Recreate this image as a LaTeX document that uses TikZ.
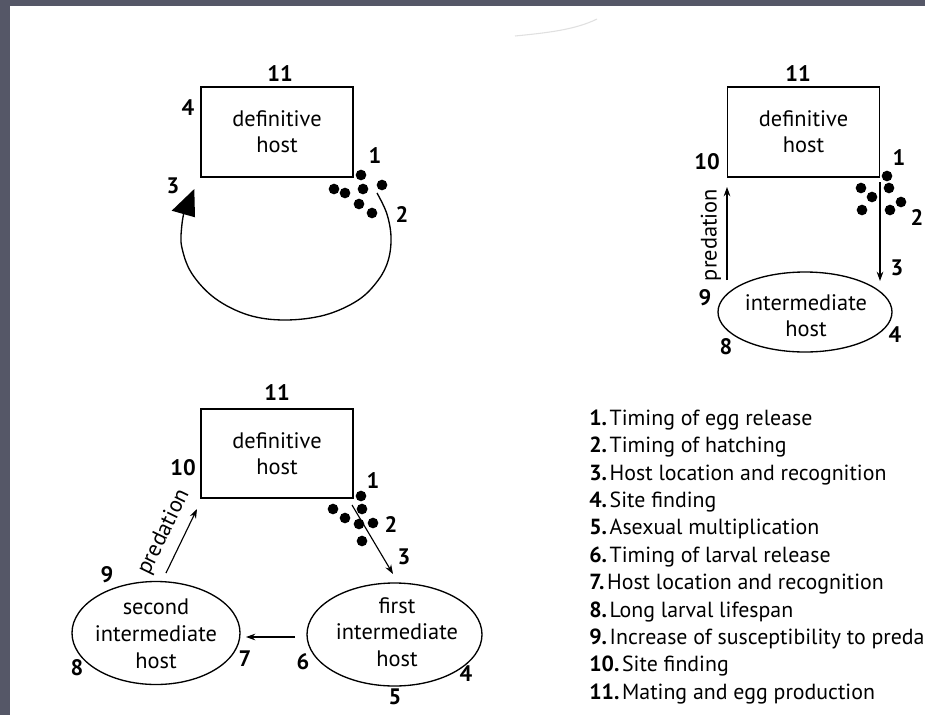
\documentclass[tikz,border=0pt]{standalone}
\usepackage{fontspec}
\setmainfont{PT Sans}
\usetikzlibrary{arrows.meta,shapes.geometric}
\definecolor{framecol}{RGB}{85,87,103}
\begin{document}
\begin{tikzpicture}[x=0.75pt,y=-0.75pt,
  numlab/.style={font=\fontsize{16.8}{18}\selectfont\bfseries, inner sep=0},
  hosttxt/.style={font=\fontsize{16.8}{19.5}\selectfont, align=center, inner sep=0},
  hostbox/.style={draw, line width=1pt, rectangle, inner sep=0, minimum width=114pt, minimum height=67.5pt,
    font=\fontsize{16.8}{19.5}\selectfont, align=center},
  hostell/.style={draw, line width=1pt, ellipse, inner sep=0},
  arr/.style={line width=0.85pt, -{Stealth[length=7pt,width=5pt]}},
  egg/.style={fill=black},
  legend/.style={font=\fontsize{16.4}{18}\selectfont, anchor=base west, inner sep=0}]
\useasboundingbox (0,0) rectangle (925,715);
\clip (0,0) rectangle (925,715);
\fill[white] (0,0) rectangle (925,715);
\fill[framecol] (0,0) rectangle (925,6);
\fill[framecol] (0,0) rectangle (10,715);
% faint scan mark
\draw[black!12, line width=0.8pt] (515,36) .. controls (545,33) and (575,30) .. (597,19);

% ---------- Panel 1 ----------
\node[hostbox] (r1) at (277,132) {definitive\\host};
\node[numlab] (p1n11) at (280,74) {11};
\node[numlab] (p1n4) at (188,108) {4};
\node[numlab] (p1n1) at (375,156) {1};
\node[numlab] (p1n3) at (173,186) {3};
\node[numlab] (p1n2) at (402,214) {2};
\foreach \x/\y in {361/175,334/189,345/193,363/189,382/185,359/204,372/213}
  \fill[egg] (\x,\y) circle[radius=4pt];
\draw[line width=1pt] plot[smooth, tension=0.6] coordinates {
  (377,193) (386.7,213.3) (391,236.7) (388.3,260) (378.3,280) (358.3,300) (325,315)
  (285,320) (248.3,315) (215,298.3) (191.7,273.3) (181.7,246.7) (181.7,226.7) (184,212)};
\fill (194.3,189) -- (171.7,210.7) -- (195,217.3) -- cycle;

% ---------- Panel 2 ----------
\node[hostbox] (r2) at (803.5,132) {definitive\\host};
\node[hostell, minimum width=130.5pt, minimum height=60pt] (e2) at (805,312) {};
\node[hosttxt] (e2t) at (806,316) {intermediate\\host};
\node[numlab] (p2n11) at (798,74) {11};
\node[numlab] (p2n10) at (707,162) {10};
\node[numlab] (p2n1) at (899,158) {1};
\node[numlab] (p2n2) at (917,217) {2};
\node[numlab] (p2n3) at (897,268) {3};
\node[numlab] (p2n9) at (705,298) {9};
\node[numlab] (p2n8) at (726,347) {8};
\node[numlab] (p2n4) at (895,335) {4};
\foreach \x/\y in {887/176,861/188,872/197,889/188,862/210,890/210,901/202}
  \fill[egg] (\x,\y) circle[radius=4pt];
\coordinate (p2a) at (880,182);
\coordinate (p2b) at (880,281);
\coordinate (p2c) at (727,280);
\coordinate (p2d) at (727,187);
\draw[arr] (p2a) -- (p2b);
\draw[arr] (p2c) -- (p2d);
\node[hosttxt, rotate=90] (p2pred) at (711,235) {predation};

% ---------- Panel 3 ----------
\node[hostbox, minimum width=114pt, minimum height=66.75pt] (r3) at (277,453.5) {definitive\\host};
\node[hostell, minimum width=126pt, minimum height=77.25pt] (e3s) at (156,633) {};
\node[hosttxt, font=\fontsize{16.8}{20.25}\selectfont] (e3st) at (156,634) {second\\intermediate\\host};
\node[hostell, minimum width=131.25pt, minimum height=77.25pt] (e3f) at (394.5,634.5) {};
\node[hosttxt, font=\fontsize{16.8}{20}\selectfont] (e3ft) at (397,632) {first\\intermediate\\host};
\node[numlab] (p3n11) at (277,393) {11};
\node[numlab] (p3n10) at (183,468) {10};
\node[numlab] (p3n1) at (373,481) {1};
\node[numlab] (p3n2) at (391,524) {2};
\node[numlab] (p3n3) at (404,557) {3};
\node[numlab] (p3n9) at (107,575) {9};
\node[numlab] (p3n8) at (77,668) {8};
\node[numlab] (p3n7) at (245,659) {7};
\node[numlab] (p3n6) at (303,662) {6};
\node[numlab] (p3n4) at (466,674) {4};
\node[numlab] (p3n5) at (395,697) {5};
\foreach \x/\y in {361/496,333/509,345/518,362/509,359/524,373/523,362/541}
  \fill[egg] (\x,\y) circle[radius=4pt];
\coordinate (p3a) at (352,505);
\coordinate (p3b) at (393,574);
\coordinate (p3c) at (295,637);
\coordinate (p3d) at (246,637);
\coordinate (p3e) at (166,573);
\coordinate (p3f) at (197,509);
\draw[arr] (p3a) -- (p3b);
\draw[arr] (p3c) -- (p3d);
\draw[arr] (p3e) -- (p3f);
\node[hosttxt, rotate=64] (p3pred) at (164,532) {predation};

% ---------- Legend ----------
\foreach \n/\t [count=\i from 0] in {
  1/Timing of egg release,
  2/Timing of hatching,
  3/Host location and recognition,
  4/Site finding,
  5/Asexual multiplication,
  6/Timing of larval release,
  7/Host location and recognition,
  8/Long larval lifespan,
  9/Increase of susceptibility to preda,
  10/Site finding,
  11/Mating and egg production}
  \node[legend] (leg\n) at (589,{425.2+27.4*\i}) {\textbf{\n.}\hspace{2pt}\t};
\end{tikzpicture}
\end{document}
